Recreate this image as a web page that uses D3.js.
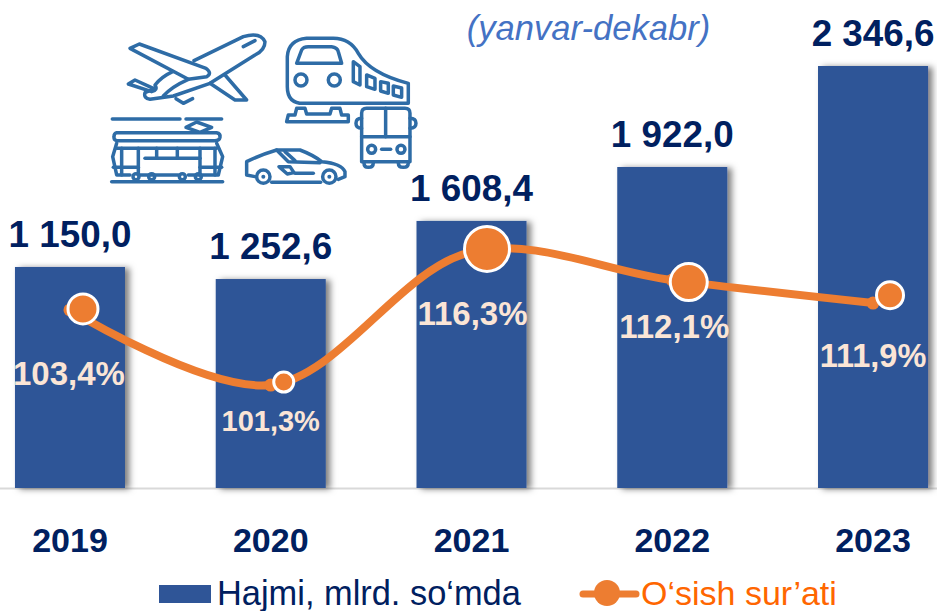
<!DOCTYPE html>
<html>
<head>
<meta charset="utf-8">
<script src="https://cdn.jsdelivr.net/npm/d3@7"></script>
<style>
html,body{margin:0;padding:0;background:#fff;overflow:hidden}
svg{display:block}
text{font-family:"Liberation Sans",Arial,sans-serif}
</style>
</head>
<body>
<div id="chart"></div>
<script>
// ---- data ----
const categories = ["2019","2020","2021","2022","2023"];
const volumeLabels = ["1 150,0","1 252,6","1 608,4","1 922,0","2 346,6"];
const growthLabels = ["103,4%","101,3%","116,3%","112,1%","111,9%"];
// heights as actually drawn in the reference (its bars are not proportional to their labels)
const barLevels = [1229,1162,1485,1785,2346.6];
// line and bubble heights as drawn, on a 0-100 plot scale
const lineLevels = [36.5,21.1,48.4,42.6,37.9];
const bubbleLevels = [36.7,21.7,49,42.2,39.5];
const bubbleRadii = [15,10,22.5,18.5,13.5];
const legendNames = ["Hajmi, mlrd. so‘mda","O‘sish sur’ati"];
const titleText = "(yanvar-dekabr)";

// ---- layout ----
const W = 937, H = 611, baseY = 488;
const bubbleShift = [13,13,15.5,16.5,17];
const pctDrop = [75,46,73,58,64];
const pctShift = [-1,0,1,2,0];
const pctSize = [33,29,33,33,32.5];
const navy = "#002060", blue = "#2F5597", orange = "#ED7D31", cream = "#FBE5D6", icon = "#2E6CA6";

const svg = d3.select("#chart").append("svg").attr("width",W).attr("height",H);
const defs = svg.append("defs");
const f = defs.append("filter").attr("id","shadow").attr("x","-20%").attr("y","-10%").attr("width","140%").attr("height","120%");
f.append("feDropShadow").attr("dx",4.5).attr("dy",1).attr("stdDeviation",3).attr("flood-color","#000").attr("flood-opacity",0.5);

const x = d3.scaleBand().domain(categories).range([-30.4,973.4]).paddingInner(0.452).paddingOuter(0.226);
const y = d3.scaleLinear().domain([0,2346.6]).range([baseY,66]);
const p = d3.scaleLinear().domain([0,100]).range([baseY,0]);
const cx = c => x(c)+x.bandwidth()/2;

// title
svg.append("text").attr("x",588.5).attr("y",40).attr("text-anchor","middle")
  .attr("font-size",34.6).attr("font-style","italic").attr("fill","#4472C4").text(titleText);

// icons (decoration, drawn in a 3x grid)
const ig = svg.append("g").attr("transform","translate(100,20) scale(0.3333)")
  .attr("fill","none").attr("stroke",icon).attr("stroke-width",10.5).attr("stroke-linejoin","round").attr("stroke-linecap","round");
const iconPaths = [
 // plane
 "M90 85L118 72L318 145Q338 160 320 170L265 178Z",
 "M282 122L430 50Q480 35 495 65Q495 90 465 105L330 190L220 228L150 238Q130 235 135 218L165 205",
 "M160 205L105 180L85 192L155 215Q175 210 165 195Q185 170 218 155",
 "M430 80L465 62","M190 228Q215 200 265 178",
 "M330 190L405 240L440 240L375 165","M228 236L250 250L278 236",
 // train
 "M620 55L700 55Q750 55 775 100Q810 160 925 190L925 250L610 250Q562 250 562 200L562 110Q565 60 620 55Z",
 "M590 130L605 90Q610 80 625 80L695 80Q712 82 715 95L725 130Z",
 "M760 125L780 140L780 195L760 185Z","M800 165L825 175L825 208L800 200Z","M842 185L865 190L865 220L842 213Z","M880 198L905 204L905 232L880 225Z",
 "M565 285L585 285L590 265L615 265L620 282L690 282L695 265L720 265L725 285L745 285L745 305L560 305Z",
 // bus
 "M800 265L915 265Q930 265 930 280L930 425L785 425L785 280Q785 265 800 265Z",
 "M857 265L857 350","M785 350L930 350","M845 388L872 388",
 "M785 295Q768 295 768 310Q768 325 785 325","M930 295Q948 295 948 310Q948 325 930 325",
 "M792 428Q792 442 805 442Q820 442 820 428","M895 428Q895 442 910 442Q925 442 925 428",
 // tram
 "M37 297L240 297","M258 297L365 297","M258 322L290 306L335 322L300 337Z",
 "M50 338L350 338Q362 340 360 352Q358 362 345 362L50 362Q40 360 42 350Q42 340 50 338Z",
 "M50 370L38 410L50 465L90 465","M120 465L235 465","M265 465L355 465L368 410L350 370",
 "M50 385L350 385","M65 385L65 465","M115 385L115 465","M300 385L300 465","M345 385L345 465",
 "M135 415L300 415","M170 385L170 415","M232 385L232 415","M40 442L115 442","M300 442L365 442",
 "M35 485L368 485",
 // car
 "M465 470L440 465L440 425Q480 405 530 390L600 390Q640 405 665 425Q725 430 735 455L735 470L715 478",
 "M530 390L565 425L660 428","M555 395L585 422","M515 487L662 487",
 "M537 440L570 440L582 458L562 462Z","M585 460L640 460"
];
ig.selectAll("path").data(iconPaths).join("path").attr("d",d=>d);
ig.selectAll("circle.i").data([[603,180,18],[703,180,18],[815,388,12],[903,388,12],[108,470,9],[155,470,9],[247,470,9],[295,470,9],[490,470,20],[688,470,20]])
  .join("circle").attr("class","i").attr("cx",d=>d[0]).attr("cy",d=>d[1]).attr("r",d=>d[2]);
ig.selectAll("circle.c").data([[490,470],[688,470]]).join("circle").attr("class","c").attr("cx",d=>d[0]).attr("cy",d=>d[1]).attr("r",6).attr("fill",icon).attr("stroke","none");

// axis
const axis = svg.append("g").attr("transform",`translate(0,${baseY})`)
  .call(d3.axisBottom(x).tickSize(0).tickPadding(0));
axis.select(".domain").attr("stroke","#D9D9D9").attr("stroke-width",2);
axis.selectAll("text").attr("font-family","'Liberation Sans',Arial,sans-serif").attr("font-size",34).attr("font-weight","bold")
  .attr("fill",navy).attr("y",64).attr("dy",0);

// bars
svg.append("g").selectAll("rect").data(categories).join("rect")
  .attr("x",d=>x(d)).attr("width",x.bandwidth())
  .attr("y",(d,i)=>y(barLevels[i])).attr("height",(d,i)=>baseY-y(barLevels[i]))
  .attr("fill",blue).attr("filter","url(#shadow)");

// volume labels
svg.append("g").selectAll("text").data(categories).join("text")
  .attr("x",d=>cx(d)).attr("y",(d,i)=>y(barLevels[i])-20)
  .attr("text-anchor","middle").attr("font-size",36.8).attr("font-weight","bold").attr("fill",navy)
  .text((d,i)=>volumeLabels[i]);

// growth line
const line = d3.line().x(d=>cx(d)).y((d)=>p(lineLevels[categories.indexOf(d)])).curve(d3.curveCatmullRom.alpha(0.5));
svg.append("path").datum(categories).attr("d",line).attr("fill","none").attr("stroke",orange).attr("stroke-width",8).attr("stroke-linecap","round");
svg.append("g").selectAll("circle").data(categories).join("circle")
  .attr("cx",d=>cx(d)).attr("cy",(d,i)=>p(lineLevels[i])).attr("r",6.5).attr("fill",orange);
svg.append("g").selectAll("circle").data(categories).join("circle")
  .attr("cx",(d,i)=>cx(d)+bubbleShift[i]).attr("cy",(d,i)=>p(bubbleLevels[i])).attr("r",(d,i)=>bubbleRadii[i])
  .attr("fill",orange).attr("stroke","#fff").attr("stroke-width",3);

// growth labels
svg.append("g").selectAll("text").data(categories).join("text")
  .attr("x",(d,i)=>cx(d)+pctShift[i]).attr("y",(d,i)=>p(lineLevels[i])+pctDrop[i])
  .attr("text-anchor","middle").attr("font-size",(d,i)=>pctSize[i]).attr("font-weight","bold").attr("fill",cream)
  .text((d,i)=>growthLabels[i]);

// legend
svg.append("rect").attr("x",159).attr("y",585).attr("width",52).attr("height",18).attr("fill",blue);
svg.append("text").attr("x",217).attr("y",605).attr("font-size",34.4).attr("fill",navy).text(legendNames[0]);
svg.append("line").attr("x1",583).attr("x2",636).attr("y1",594).attr("y2",594).attr("stroke",orange).attr("stroke-width",7).attr("stroke-linecap","round");
svg.append("circle").attr("cx",607).attr("cy",593).attr("r",13).attr("fill",orange);
svg.append("text").attr("x",641).attr("y",605).attr("font-size",34).attr("fill","#FF6600").text(legendNames[1]);
</script>
</body>
</html>
